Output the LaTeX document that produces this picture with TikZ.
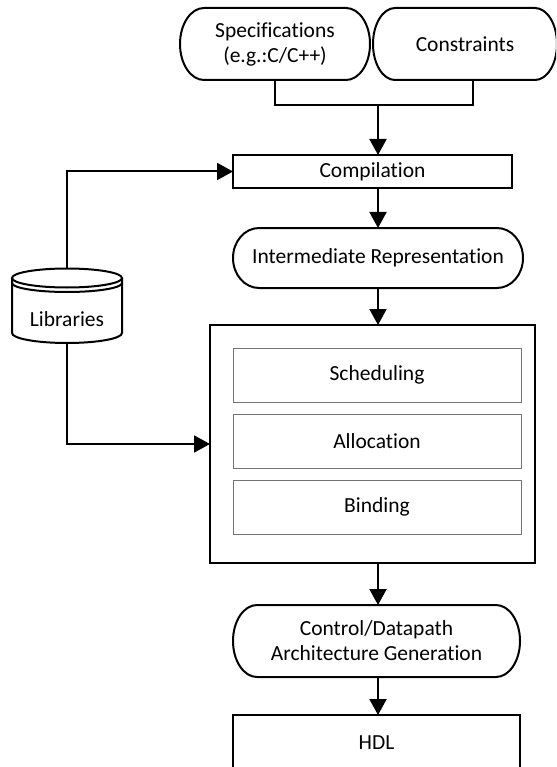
\documentclass[tikz,border=0pt]{standalone}
\usepackage{fontspec}
\setmainfont[Ligatures=NoCommon]{Carlito}
\usetikzlibrary{arrows.meta,calc}

% stadium outline with elliptical ends around a named node
\newcommand\termshape[2]{%
  \draw[shapeline] let \p1=(#1.north west), \p2=(#1.south east), \n1={(\y1-\y2)/2} in
    (\x1+#2,\y1) -- (\x2-#2,\y1)
    arc[start angle=90,end angle=-90,x radius=#2,y radius=\n1]
    -- (\x1+#2,\y2)
    arc[start angle=270,end angle=90,x radius=#2,y radius=\n1] -- cycle;}

\begin{document}
\begin{tikzpicture}[x=1pt,y=1pt,
  font=\fontsize{21.5}{25}\selectfont,
  shapeline/.style={line width=2pt},
  flow/.style={line width=2pt,-{Triangle[width=17pt,length=16pt]}},
  wire/.style={line width=2pt},
  termbox/.style={draw=none,outer sep=0pt,align=center,inner sep=0pt},
  procbox/.style={draw,line width=2pt,outer sep=0pt,align=center,inner sep=0pt},
  stepbox/.style={draw=black!55,line width=0.9pt,outer sep=0pt,inner sep=0pt,
                  minimum width=288pt,minimum height=54pt}]

\fill[white] (0,0) rectangle (556,-767);
\useasboundingbox (0,0) rectangle (556,-767);
\clip (0,0) rectangle (556,-767);

\coordinate (axis) at (378,0);

% inputs
\node[termbox,minimum width=190pt,minimum height=72pt] (spec) at (275,-44)
  {Specifications\\(e.g.:C/C++)};
\termshape{spec}{24pt}
\node[termbox,minimum width=184pt,minimum height=72pt] (cons) at (465,-44) {Constraints};
\termshape{cons}{22pt}

% front end
\node[procbox,minimum width=279pt,minimum height=33pt] (comp) at (372.5,-171.5) {Compilation};
\node[termbox,minimum width=290pt,minimum height=60pt] (ir) at (378,-258)
  {Intermediate Representation};
\termshape{ir}{26pt}

% synthesis core
\node[procbox,minimum width=325pt,minimum height=238pt] (core) at (372.5,-444) {};
\node[stepbox] (sched) at (377,-375) {Scheduling};
\node[stepbox] (alloc) at (377,-441) {Allocation};
\node[stepbox] (bind)  at (377,-507) {Binding};

% back end
\node[termbox,minimum width=287pt,minimum height=72pt] (ctrl) at (376.5,-641)
  {Control/Datapath\\Architecture Generation};
\termshape{ctrl}{24pt}
\node[procbox,minimum width=287pt,minimum height=56pt] (hdl) at (376.5,-743) {HDL};

% library store
\node[draw=none,outer sep=0pt,minimum width=110pt,minimum height=75pt] (lib) at (67,-305.5) {};
\draw[shapeline]
  (12,-278) -- (12,-333) arc[start angle=180,end angle=360,x radius=55pt,y radius=10pt]
  -- (122,-278);
\draw[shapeline] (67,-278) ellipse[x radius=55pt,y radius=9.5pt];
\draw[shapeline] (12,-283) arc[start angle=180,end angle=360,x radius=55pt,y radius=9pt];
\node (libtxt) at (67,-319) {Libraries};

% connectors
\coordinate (merge) at (378,-105);
\draw[wire] (spec.south) |- ([xshift=8pt]cons.south |- merge) -- ([xshift=8pt]cons.south);
\draw[flow] (merge) -- (comp.north -| axis);
\draw[flow] (comp.south -| axis) -- (ir.north -| axis);
\draw[flow] (ir.south -| axis) -- (core.north -| axis);
\draw[flow] (core.south -| axis) -- (ctrl.north -| axis);
\draw[flow] (ctrl.south -| axis) -- (hdl.north -| axis);
\draw[flow] (lib.north) |- (comp.west);
\draw[flow] (lib.south) |- (core.west);
\end{tikzpicture}
\end{document}
